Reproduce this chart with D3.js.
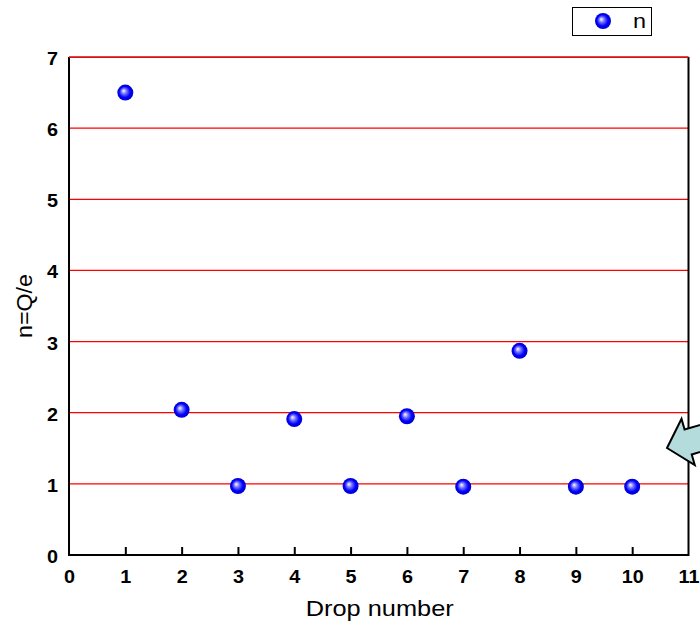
<!DOCTYPE html>
<html><head><meta charset="utf-8">
<script src="https://d3js.org/d3.v7.min.js"></script>
<style>body{margin:0;background:#fff}svg{display:block}text{font-family:Arial,"Liberation Sans",sans-serif}</style>
</head><body><div id="chart"></div>
<script>
const drops = [1,2,3,4,5,6,7,8,9,10];
const nValues = [6.50,2.04,0.97,1.91,0.97,1.95,0.96,2.87,0.96,0.96];
const xTicks = [0,1,2,3,4,5,6,7,8,9,10,11];
const yTicks = [0,1,2,3,4,5,6,7];
const seriesName = "n";
const xTitle = "Drop number";
const yTitle = "n=Q/e";

const W=700,H=630;
const svg=d3.select("#chart").append("svg").attr("width",W).attr("height",H);
const defs=svg.append("defs");
const g=defs.append("radialGradient").attr("id","ball").attr("cx","0.5").attr("cy","0.5").attr("r","0.5").attr("fx","0.38").attr("fy","0.38");
g.append("stop").attr("offset","0%").attr("stop-color","#ffffff");
g.append("stop").attr("offset","35%").attr("stop-color","#6f6fff");
g.append("stop").attr("offset","70%").attr("stop-color","#0000ff");
g.append("stop").attr("offset","100%").attr("stop-color","#0000c8");

const x=d3.scaleLinear().domain([0,11]).range([69,688.5]);
const y=d3.scaleLinear().domain([0,7]).range([555,57]);

// gridlines
svg.append("g").selectAll("line").data(yTicks.filter(v=>v>0)).join("line")
 .attr("x1",x(0)).attr("x2",x(11)).attr("y1",d=>y(d)).attr("y2",d=>y(d))
 .attr("stroke","#ff0000").attr("stroke-width",1.2);

// frame: left, bottom, right
svg.append("path").attr("d",`M${x(0)},${y(7)}V${y(0)}H${x(11)}V${y(7)}`)
 .attr("fill","none").attr("stroke","#000").attr("stroke-width",2);
svg.append("line").attr("x1",x(0)).attr("x2",x(11)).attr("y1",y(7)).attr("y2",y(7)).attr("stroke","#000").attr("stroke-width",0.6);
svg.append("line").attr("x1",x(0)).attr("x2",x(11)).attr("y1",y(7)+0.5).attr("y2",y(7)+0.5).attr("stroke","#ff0000").attr("stroke-width",1.2);

// x axis
const xa=svg.append("g").attr("transform",`translate(0,${y(0)})`)
 .call(d3.axisBottom(x).tickValues(xTicks).tickSize(-8).tickPadding(15).tickFormat(d3.format("d")));
xa.select(".domain").remove();
xa.selectAll(".tick line").attr("stroke","#000").attr("stroke-width",2);
xa.selectAll(".tick line").filter(d=>d===0||d===11).remove();
xa.selectAll("text").attr("font-size",18).attr("font-weight","bold").attr("fill","#000")
 .attr("font-family","Arial, 'Liberation Sans', sans-serif").attr("transform","scale(1.1,1)");

// y axis
const ya=svg.append("g").attr("transform",`translate(${x(0)},0)`)
 .call(d3.axisLeft(y).tickValues(yTicks).tickSize(0).tickPadding(10).tickFormat(d3.format("d")));
ya.select(".domain").remove();
ya.selectAll("text").attr("font-size",18).attr("font-weight","bold").attr("fill","#000")
 .attr("font-family","Arial, 'Liberation Sans', sans-serif").attr("transform","scale(1.1,1)").attr("dy","0.42em");

// titles
svg.append("text").attr("x",(x(0)+x(11))/2+1).attr("y",616).attr("text-anchor","middle").attr("font-size",22.5)
 .attr("textLength",148).attr("lengthAdjust","spacingAndGlyphs").text(xTitle);
svg.append("text").attr("transform",`translate(32,${(y(0)+y(7))/2}) rotate(-90)`).attr("text-anchor","middle").attr("font-size",22.5)
 .attr("textLength",64).attr("lengthAdjust","spacingAndGlyphs").text(yTitle);

// points
svg.append("g").selectAll("circle").data(drops).join("circle")
 .attr("cx",(d,i)=>x(d)).attr("cy",(d,i)=>y(nValues[i])).attr("r",8).attr("fill","url(#ball)");

// legend
svg.append("rect").attr("x",572.5).attr("y",7.5).attr("width",79).attr("height",28).attr("fill","#fff").attr("stroke","#000").attr("stroke-width",1);
svg.append("circle").attr("cx",603).attr("cy",21).attr("r",8).attr("fill","url(#ball)");
svg.append("text").attr("x",633).attr("y",28).attr("font-size",20).attr("textLength",13).attr("lengthAdjust","spacingAndGlyphs").text(seriesName);

// annotation arrow (partially off page)
const arrow=[[0,0],[22,-24],[22,-13],[70,-13],[70,13],[22,13],[22,24]];
svg.append("path").attr("d",d3.line()(arrow)+"Z")
 .attr("transform","translate(667,448) rotate(-16)")
 .attr("fill","#b4dcdc").attr("stroke","#000").attr("stroke-width",2).attr("stroke-linejoin","miter");
</script></body></html>
